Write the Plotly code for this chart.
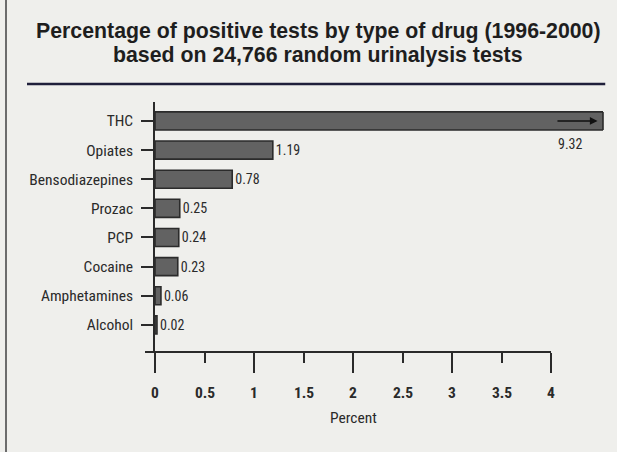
import plotly.graph_objects as go

# Drug categories (top to bottom) and share of positive tests, in percent
drugs = ["THC", "Opiates", "Bensodiazepines", "Prozac", "PCP",
         "Cocaine", "Amphetamines", "Alcohol"]
percent = [9.32, 1.19, 0.78, 0.25, 0.24, 0.23, 0.06, 0.02]

x_ticks = [0, 1, 2, 3, 4]
x_tick_text = ["0", "1", "2", "3", "4"]
x_minor = [0.5, 1.5, 2.5, 3.5]
minor_text = ["0.5", "1.5", "2.5", "3.5"]

X_MAX = 4.525          # axis cut-off; THC runs past it
X_AXIS_END = 4         # scale line stops at 4

BG = "#efefec"
BAR = "#626262"
EDGE = "#2b2b2b"
INK = "#2a2a2a"
NARROW = "Liberation Sans Narrow, Roboto Condensed, Arial Narrow, Liberation Sans, sans-serif"
HEAD = "Liberation Sans, Arial, sans-serif"

fig = go.Figure()

# bar labels: THC gets its own label under the broken bar
labels = ["" if v > X_MAX else f"{v:.2f}" for v in percent]

fig.add_trace(go.Bar(
    x=percent, y=drugs, orientation="h",
    width=0.62,
    marker=dict(color=BAR, line=dict(color=EDGE, width=1.6)),
    text=labels, textposition="outside",
    textfont=dict(family=NARROW, size=14, color=INK),
    cliponaxis=True,
    hoverinfo="skip",
))

n = len(drugs)
fig.update_layout(
    width=617, height=452,
    margin=dict(l=155, r=14, t=102, b=100),
    paper_bgcolor=BG, plot_bgcolor=BG,
    showlegend=False,
    bargap=0.38,
    xaxis=dict(
        range=[0, X_MAX],
        showline=False, showgrid=False, zeroline=False,
        tickvals=x_ticks, ticktext=x_tick_text,
        ticks="outside", ticklen=20, tickwidth=1.6, tickcolor=INK,
        ticklabelstandoff=6,
        tickfont=dict(family=NARROW, size=15.5, color=INK, weight="bold"),
        minor=dict(tickvals=x_minor, ticks="outside", ticklen=10,
                   tickwidth=1.6, tickcolor=INK),
    ),
    yaxis=dict(
        categoryorder="array", categoryarray=drugs,
        range=[n - 1 + 0.93, -0.65],
        showline=True, linecolor=INK, linewidth=1.6,
        showgrid=False, zeroline=False,
        ticks="outside", ticklen=12, tickwidth=1.6, tickcolor=INK,
        ticklabelstandoff=5,
        tickfont=dict(family=NARROW, size=15.5, color=INK),
    ),
)

# half-step labels between the major ticks
for v, t in zip(x_minor, minor_text):
    fig.add_annotation(x=v, y=0, xref="x", yref="paper", text=f"<b>{t}</b>",
                       showarrow=False, yshift=-41, yanchor="middle",
                       font=dict(family=NARROW, size=15.5, color=INK))

# x scale line, starting a little left of the y axis and ending at 4
fig.add_shape(type="line", xref="x domain", yref="paper",
              x0=-10 / 448, x1=X_AXIS_END / X_MAX, y0=0, y1=0,
              line=dict(color=INK, width=1.8))

# closing edge of the broken THC bar
fig.add_shape(type="line", xref="x domain", yref="y",
              x0=1, x1=1, y0=-0.31, y1=0.31,
              line=dict(color=EDGE, width=1.6))

# arrow inside the THC bar and its true value
fig.add_annotation(x=4.47, y="THC", ax=4.05, ay=0, axref="x",
                   showarrow=True, arrowhead=2, arrowsize=1.1,
                   arrowwidth=1.4, arrowcolor="#111111", text="")
fig.add_annotation(x=4.2, y="THC", text="9.32", showarrow=False,
                   yshift=-23, xanchor="center",
                   font=dict(family=NARROW, size=14, color=INK))

# axis title
fig.add_annotation(x=2, y=0, xref="x", yref="paper", text="Percent",
                   showarrow=False, yshift=-66, yanchor="middle",
                   font=dict(family=NARROW, size=15.5, color=INK))

# heading, two centred lines
TITLE_X = (318 - 155) / 448
fig.add_annotation(x=TITLE_X, y=1, xref="paper", yref="paper",
                   text="Percentage of positive tests by type of drug (1996-2000)",
                   showarrow=False, yanchor="middle", yshift=102 - 31,
                   font=dict(family=HEAD, size=21.3, color="#1e1e1e", weight="bold"))
fig.add_annotation(x=TITLE_X, y=1, xref="paper", yref="paper",
                   text="based on 24,766 random urinalysis tests",
                   showarrow=False, yanchor="middle", yshift=102 - 55,
                   font=dict(family=HEAD, size=21.3, color="#1e1e1e", weight="bold"))

# rule under the heading
fig.add_shape(type="line", xref="paper", yref="paper",
              x0=-128 / 448, x1=1.005, y0=1 + 18 / 250, y1=1 + 18 / 250,
              line=dict(color="#1f1f3a", width=2.6))

# page border on the left
fig.add_shape(type="line", xref="paper", yref="paper",
              x0=-149 / 448, x1=-149 / 448, y0=-100 / 250, y1=1 + 102 / 250,
              line=dict(color="#6c6c6c", width=2))

fig.write_html("out.html")
